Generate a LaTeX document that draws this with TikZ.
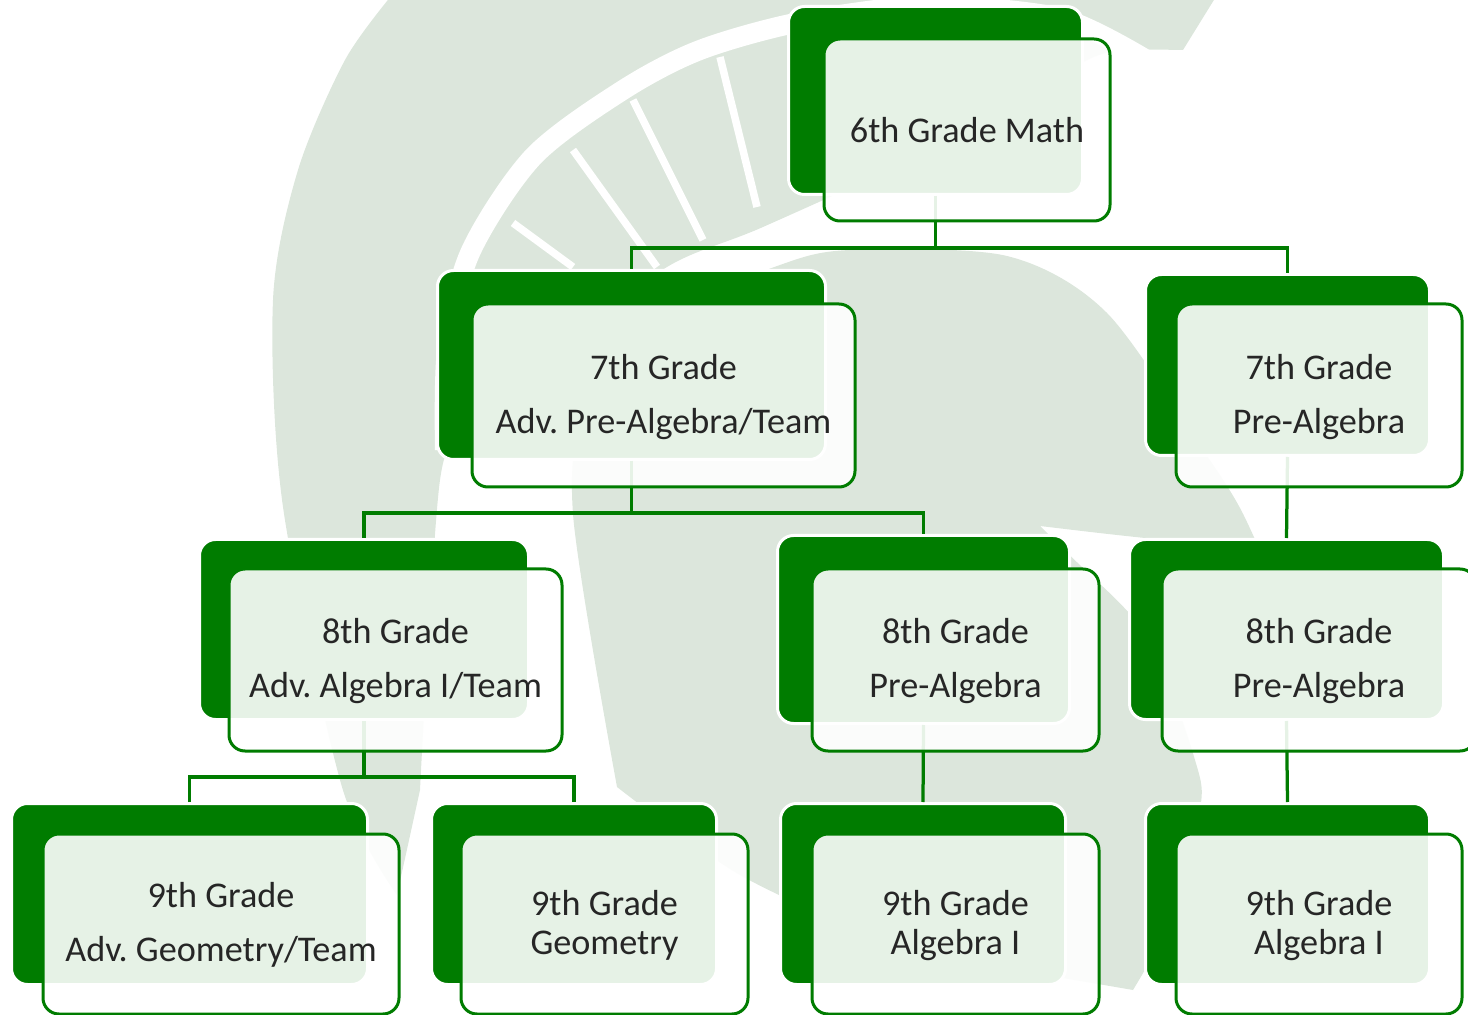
\documentclass[tikz,border=0pt]{standalone}
\usepackage{fontspec}
\setmainfont{Carlito}
\frenchspacing
\definecolor{mygreen}{HTML}{007C00}
\definecolor{shield}{HTML}{DCE6DC}
\definecolor{inktext}{HTML}{262626}
\tikzset{
    backbox/.style 2 args={rectangle, rounded corners=3.2mm, fill=mygreen, draw=white, line width=0.6mm,
        minimum width=#1*0.2mm+0.6mm, minimum height=#2*0.2mm+0.6mm},
    frontbox/.style 2 args={rectangle, rounded corners=3.2mm, fill=white, draw=mygreen, line width=0.6mm,
        fill opacity=0.9, draw opacity=1, text opacity=1, text=inktext, align=center, inner sep=0pt,
        minimum width=#1*0.2mm, minimum height=#2*0.2mm},
    oneline/.style={font=\fontsize{20.6}{30.6}\selectfont},
    wideline/.style={font=\fontsize{20.6}{30.6}\selectfont, text depth=2pt},
    tightline/.style={font=\fontsize{20.6}{22.1}\selectfont, text depth=2pt},
    link/.style={draw=mygreen, line width=0.65mm, line join=miter}
}
\begin{document}
\begin{tikzpicture}[x=0.2mm,y=-0.2mm]
    \useasboundingbox (0,0) rectangle (1468,1015);
    \clip (0,0) rectangle (1468,1015);
    % watermark
    \fill[shield] plot[smooth] coordinates {(392,-5) (345,60) (298,170) (273,300) (283,507) (342,787) (397,895)}
        -- plot[smooth] coordinates {(420,790) (440,480) (470,440) (560,350) (667,267) (763,227) (930,150) (1060,75) (1110,52) (1183,50)}
        -- (1217,-5) -- cycle;
    \draw[white, line width=4mm] plot[smooth] coordinates {(445,450) (447,350) (470,253) (533,157) (623,90) (700,50) (800,22) (925,6) (1060,18) (1150,62)};
    \draw[white, line width=1.5mm] (513,223) -- (573,267);
    \draw[white, line width=1.5mm] (573,150) -- (657,267);
    \draw[white, line width=1.5mm] (633,100) -- (703,240);
    \draw[white, line width=1.5mm] (720,57) -- (757,207);
    \fill[shield] plot[smooth] coordinates {(617,787) (573,514) (590,400) (680,310) (780,265) (850,250) (1007,256) (1107,313) (1207,456) (1240,508) (1265,562)}
        -- plot[smooth] coordinates {(1240,548) (1117,535) (1040,526)}
        -- plot[smooth] coordinates {(1090,575) (1150,640) (1195,760) (1200,810) (1170,920) (1133,990)}
        -- plot[smooth] coordinates {(900,950) (740,875) (617,787)} -- cycle;
    % back boxes
    \node[backbox={291}{185}] (back6) at (935.5,100.5) {};
    \node[backbox={385}{186}] (back7a) at (631.5,365) {};
    \node[backbox={281}{178}] (back7b) at (1287.5,365) {};
    \node[backbox={326}{177}] (back8a) at (364,629.5) {};
    \node[backbox={289}{185}] (back8b) at (923.5,629.5) {};
    \node[backbox={311}{177}] (back8c) at (1286.5,629.5) {};
    \node[backbox={353}{178}] (back9a) at (189.5,894) {};
    \node[backbox={282}{178}] (back9b) at (574,894) {};
    \node[backbox={282}{178}] (back9c) at (923,894) {};
    \node[backbox={281}{178}] (back9d) at (1287.5,894) {};
    % connectors
    \coordinate (bus6) at (935.5,248);
    \coordinate (bus7) at (631.5,513);
    \coordinate (bus8) at (364,777);
    \draw[link] (back6.south) -- (bus6);
    \draw[link] (back7a.north) |- (bus6);
    \draw[link] (back7b.north) |- (bus6);
    \draw[link] (back7a.south) -- (bus7);
    \draw[link] (back8a.north) |- (bus7);
    \draw[link] (back8b.north) |- (bus7);
    \draw[link] (back8a.south) -- (bus8);
    \draw[link] (back9a.north) |- (bus8);
    \draw[link] (back9b.north) |- (bus8);
    \draw[link] (back7b.south) -- (back8c.north);
    \draw[link] (back8b.south) -- (back9c.north);
    \draw[link] (back8c.south) -- (back9d.north);
    % front boxes
    \node[frontbox={286}{182}, oneline] (front6) at (967,130) {6th Grade Math};
    \node[frontbox={383}{183}, wideline] (front7a) at (663.5,395.5) {7th Grade\\Adv. Pre-Algebra/Team};
    \node[frontbox={286}{183}, wideline] (front7b) at (1319,395.5) {7th Grade\\Pre-Algebra};
    \node[frontbox={333}{182}, wideline] (front8a) at (395.5,660) {8th Grade\\Adv. Algebra I/Team};
    \node[frontbox={287}{182}, wideline] (front8b) at (955.5,660) {8th Grade\\Pre-Algebra};
    \node[frontbox={314}{182}, wideline] (front8c) at (1319,660) {8th Grade\\Pre-Algebra};
    \node[frontbox={356}{180}, wideline] (front9a) at (221,924) {9th Grade\\Adv. Geometry/Team};
    \node[frontbox={287}{180}, tightline] (front9b) at (604.5,924) {9th Grade\\Geometry};
    \node[frontbox={287}{180}, tightline] (front9c) at (955.5,924) {9th Grade\\Algebra I};
    \node[frontbox={286}{180}, tightline] (front9d) at (1319,924) {9th Grade\\Algebra I};
\end{tikzpicture}
\end{document}
